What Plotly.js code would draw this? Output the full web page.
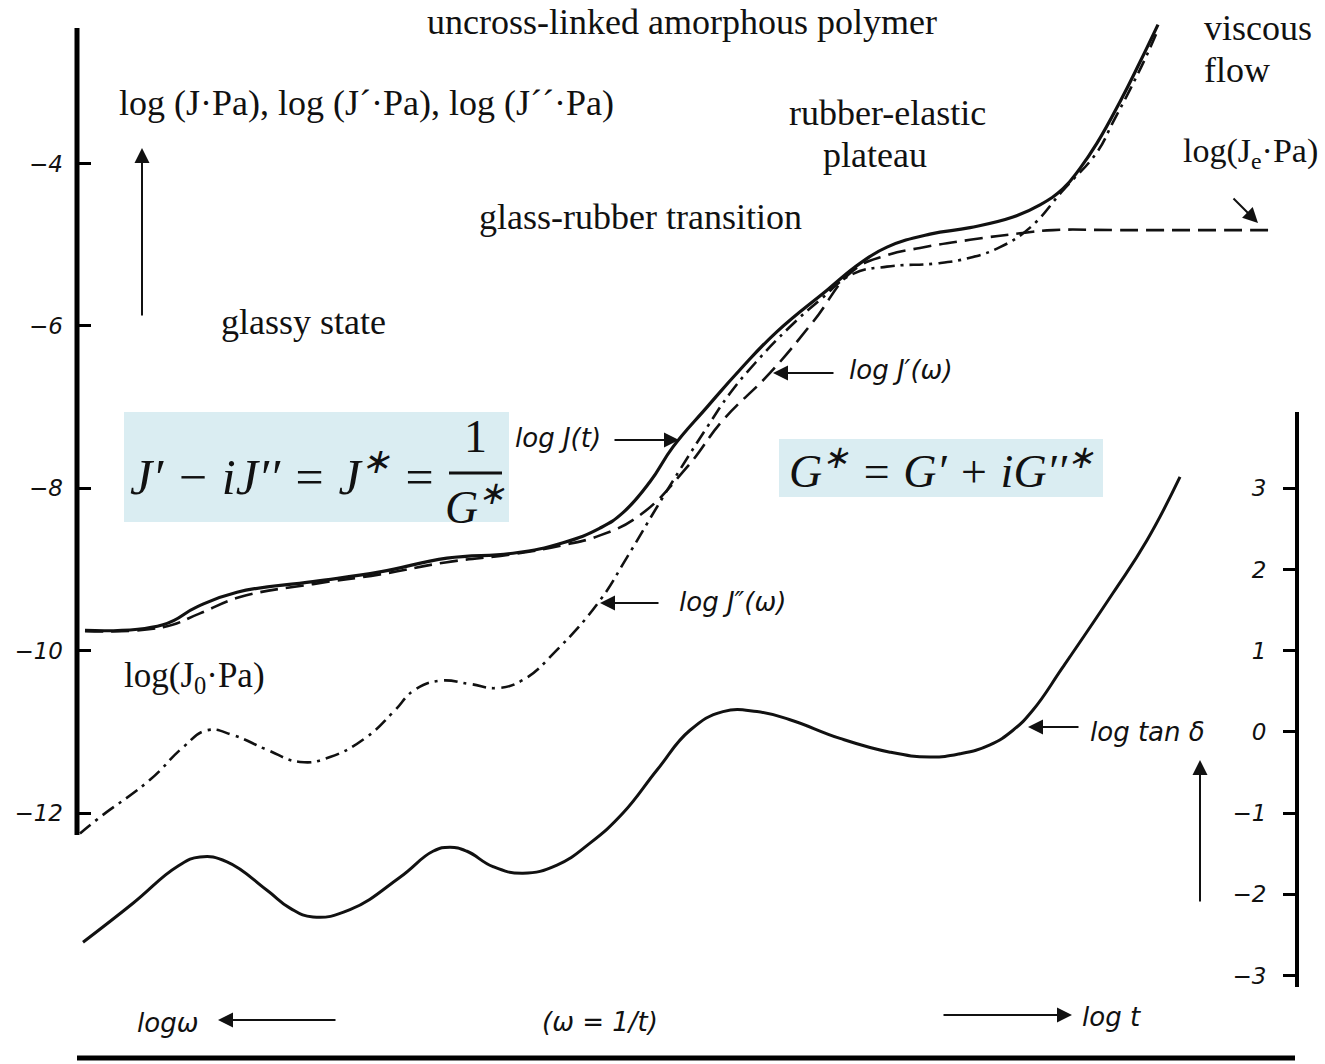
<!DOCTYPE html>
<html>
<head>
<meta charset="utf-8">
<script src="https://cdn.plot.ly/plotly-3.0.1.min.js"></script>
<style>html,body{margin:0;padding:0;background:#fff;}#chart{width:1325px;height:1064px;}</style>
</head>
<body>
<div id="chart"></div>
<script>
// log time axis (arbitrary decades), left axis: log(J·Pa), right axis: log tan δ
const xJt  = [0.08,0.86,1.20,1.60,2.36,3.03,3.70,4.36,4.86,5.23,5.46,5.73,5.96,6.30,6.63,7.00,7.50,7.83,8.10,8.53,8.93,9.36,9.63,9.86,10.03,10.20,10.43,10.63,10.81];
const yJt  = [-9.75,-9.68,-9.46,-9.28,-9.15,-9.03,-8.86,-8.80,-8.67,-8.49,-8.30,-7.92,-7.49,-7.00,-6.54,-6.07,-5.56,-5.23,-5.03,-4.87,-4.79,-4.66,-4.51,-4.31,-4.06,-3.75,-3.24,-2.75,-2.29];

const xJp  = [0.08,0.86,1.23,1.63,2.36,3.03,3.70,4.36,4.86,5.23,5.63,6.10,6.46,6.93,7.36,7.76,8.10,8.43,8.93,9.43,9.76,10.43,11.96];
const yJp  = [-9.76,-9.71,-9.54,-9.34,-9.18,-9.06,-8.91,-8.81,-8.70,-8.58,-8.33,-7.74,-7.16,-6.58,-5.95,-5.32,-5.13,-5.04,-4.94,-4.86,-4.82,-4.82,-4.82];

const xJpp = [0.03,0.23,0.73,1.06,1.30,1.56,1.90,2.23,2.53,2.90,3.16,3.38,3.63,3.93,4.20,4.46,4.80,5.23,5.50,5.80,6.03,6.30,6.53,6.78,7.13,7.43,7.76,8.10,8.60,8.93,9.23,9.53,9.86,10.20,10.36,10.53,10.70,10.80];
const yJpp = [-12.25,-12.05,-11.59,-11.19,-10.98,-11.04,-11.22,-11.37,-11.31,-11.06,-10.76,-10.48,-10.37,-10.41,-10.46,-10.36,-9.99,-9.38,-8.85,-8.23,-7.77,-7.25,-6.83,-6.46,-6.01,-5.68,-5.36,-5.27,-5.23,-5.16,-5.03,-4.79,-4.33,-3.86,-3.49,-3.09,-2.66,-2.38];

const xTan = [0.06,0.56,1.00,1.23,1.50,1.90,2.13,2.36,2.73,3.23,3.56,3.73,3.90,4.16,4.46,4.80,5.13,5.46,5.80,6.13,6.46,6.80,7.13,7.63,8.13,8.53,8.83,9.13,9.36,9.56,9.86,10.36,10.70,11.03];
const yTan = [-2.59,-2.11,-1.66,-1.54,-1.60,-1.95,-2.17,-2.28,-2.19,-1.79,-1.47,-1.42,-1.47,-1.66,-1.74,-1.64,-1.37,-1.00,-0.47,0.02,0.25,0.25,0.15,-0.08,-0.25,-0.31,-0.27,-0.16,0.02,0.27,0.80,1.71,2.36,3.14];

const leftTicks  = [-12,-10,-8,-6,-4];
const rightTicks = [-3,-2,-1,0,1,2,3];

const serif = 'Liberation Serif, Times New Roman, serif';
const sans = 'DejaVu Sans, Verdana, sans-serif';
const ink = '#111';
const smooth = 1.3;

const traces = [
  {x:xJt, y:yJt, mode:'lines', line:{color:ink, width:3.2, shape:'spline', smoothing:smooth}, hoverinfo:'skip'},
  {x:xJp, y:yJp, mode:'lines', line:{color:ink, width:2.6, dash:'18px,8px', shape:'spline', smoothing:smooth}, hoverinfo:'skip'},
  {x:xJpp, y:yJpp, mode:'lines', line:{color:ink, width:2.6, dash:'14px,6px,3px,6px', shape:'spline', smoothing:smooth}, hoverinfo:'skip'},
  {x:xTan, y:yTan, yaxis:'y2', mode:'lines', line:{color:ink, width:3, shape:'spline', smoothing:smooth}, hoverinfo:'skip'}
];

function txt(x, y, text, size, font, opts) {
  return Object.assign({x:x, y:y, xref:'x', yref:'y', text:text, showarrow:false,
    xanchor:'left', yanchor:'middle', font:{family:font, size:size, color:ink}}, opts || {});
}
function arr(x, y, ax, ay) {
  return {x:x, y:y, ax:ax, ay:ay, xref:'x', yref:'y', axref:'x', ayref:'y', text:'',
    showarrow:true, arrowhead:2, arrowsize:1.5, arrowwidth:2, arrowcolor:ink};
}

const annotations = [
  txt(6.05, -2.26, 'uncross-linked amorphous polymer', 36, serif, {xanchor:'center'}),
  txt(0.40, -3.255, 'log (J·Pa), log (J´·Pa), log (J´´·Pa)', 36, serif),
  txt(8.10, -3.378, 'rubber-elastic', 36, serif, {xanchor:'center'}),
  txt(7.98, -3.895, 'plateau', 36, serif, {xanchor:'center'}),
  txt(11.25, -2.331, 'viscous', 36, serif),
  txt(11.25, -2.849, 'flow', 36, serif),
  txt(11.04, -3.871, 'log(J<sub>e</sub>·Pa)', 34, serif),
  txt(4.00, -4.659, 'glass-rubber transition', 36, serif),
  txt(1.42, -5.952, 'glassy state', 36, serif),
  txt(0.45, -10.336, 'log(J<sub>0</sub>·Pa)', 35, serif),
  txt(0.51, -7.812, '<i>J′ − iJ′′ = J<sup>∗</sup> =</i>', 50, serif),
  txt(3.98, -7.368, '1', 46, serif, {xanchor:'center'}),
  txt(3.98, -8.19, '<i>G<sup>∗</sup></i>', 46, serif, {xanchor:'center'}),
  txt(7.10, -7.750, '<i>G<sup>∗</sup> = G′ + iG′′<sup>∗</sup></i>', 46, serif),
  txt(4.36, -7.381, '<i>log J(t)</i>', 26, sans),
  txt(7.70, -6.543, '<i>log J′(ω)</i>', 26, sans),
  txt(6.00, -9.400, '<i>log J″(ω)</i>', 26, sans),
  txt(10.11, -11.001, '<i>log tan δ</i>', 26, sans),
  txt(0.58, -14.585, '<i>logω</i>', 26, sans),
  txt(4.63, -14.573, '<i>(ω = 1/t)</i>', 26, sans),
  txt(10.03, -14.51, '<i>log t</i>', 26, sans),
  arr(0.65, -3.809, 0.65, -5.890),
  arr(11.23, -11.346, 11.23, -13.107),
  arr(1.41, -14.548, 2.60, -14.548),
  arr(9.95, -14.486, 8.65, -14.486),
  arr(6.02, -7.405, 5.36, -7.405),
  arr(6.96, -6.580, 7.58, -6.580),
  arr(5.23, -9.413, 5.83, -9.413),
  arr(9.51, -10.940, 10.03, -10.940),
  arr(11.81, -4.733, 11.55, -4.413)
];

const shapes = [
  {type:'rect', xref:'x', yref:'y', x0:0.47, x1:4.32, y0:-7.060, y1:-8.415, fillcolor:'rgb(218,237,242)', line:{width:0}, layer:'below'},
  {type:'rect', xref:'x', yref:'y', x0:7.02, x1:10.26, y0:-7.393, y1:-8.107, fillcolor:'rgb(218,237,242)', line:{width:0}, layer:'below'},
  {type:'line', xref:'x', yref:'y', x0:3.72, x1:4.25, y0:-7.812, y1:-7.812, line:{color:ink, width:3}},
  {type:'line', xref:'x', yref:'y', x0:0, x1:0, y0:-2.331, y1:-12.27, line:{color:'#000', width:5}},
  {type:'line', xref:'x', yref:'y', x0:12.20, x1:12.20, y0:-7.060, y1:-14.142, line:{color:'#000', width:4}},
  {type:'line', xref:'x', yref:'y', x0:0, x1:12.18, y0:-15.016, y1:-15.016, line:{color:'#000', width:5}}
];

const layout = {
  width:1325, height:1064,
  margin:{l:0, r:0, t:0, b:0},
  paper_bgcolor:'#fff', plot_bgcolor:'#fff',
  showlegend:false,
  xaxis:{range:[-0.77, 12.48], visible:false, fixedrange:true},
  yaxis:{range:[-15.090, -1.9865], anchor:'free', position:0.0581, side:'left',
    showgrid:false, zeroline:false, showline:false,
    ticks:'inside', ticklen:13, tickwidth:3, tickcolor:'#000',
    tickvals:leftTicks, ticklabelstandoff:14,
    tickfont:{family:sans, size:23, color:ink, style:'italic'}},
  yaxis2:{range:[-4.090, 9.0135], overlaying:'y', anchor:'free', position:0.9789, side:'left',
    showgrid:false, zeroline:false, showline:false,
    ticks:'outside', ticklen:14, tickwidth:3, tickcolor:'#000',
    tickvals:rightTicks, ticklabelstandoff:12,
    tickfont:{family:sans, size:23, color:ink, style:'italic'}},
  annotations:annotations,
  shapes:shapes
};

Plotly.newPlot('chart', traces, layout, {staticPlot:true, displayModeBar:false});
</script>
</body>
</html>
